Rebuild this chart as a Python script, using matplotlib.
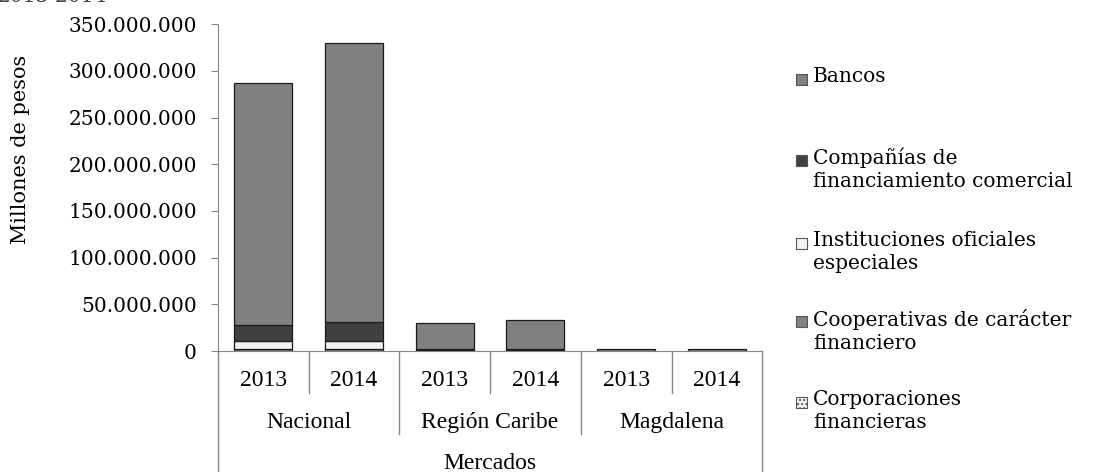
import numpy as np
import matplotlib
matplotlib.use('Agg')
import matplotlib.pyplot as plt
import matplotlib.transforms as mtransforms
from matplotlib.patches import Rectangle
from matplotlib.ticker import FuncFormatter

plt.rcParams['font.family'] = ['DejaVu Serif']

# datos (millones de pesos)
years = ['2013', '2014', '2013', '2014', '2013', '2014']
markets = ['Nacional', 'Región Caribe', 'Magdalena']
corporaciones = [0.3, 0.4, 0.05, 0.05, 0.01, 0.01]
cooperativas = [2.0, 2.2, 0.4, 0.45, 0.05, 0.06]
instituciones = [9.0, 8.8, 0.3, 0.3, 0.05, 0.05]
companias = [16.5, 19.3, 1.2, 1.4, 0.15, 0.17]
bancos = [259.2, 299.0, 27.7, 31.0, 1.6, 1.8]

series = [
    ('Corporaciones financieras', corporaciones, '#f2f2f2', '....'),
    ('Cooperativas de carácter financiero', cooperativas, '#828282', None),
    ('Instituciones oficiales especiales', instituciones, '#f2f2f2', None),
    ('Compañías de financiamiento comercial', companias, '#404040', None),
    ('Bancos', bancos, '#808080', None),
]

fig = plt.figure(figsize=(11, 4.72), dpi=100)
ax = fig.add_axes([0.198, 0.256, 0.495, 0.693])

x = np.arange(len(years))
bottom = np.zeros(len(years))
for name, vals, col, hatch in series:
    v = np.array(vals) * 1e6
    ax.bar(x, v, 0.64, bottom=bottom, color=col, edgecolor='#1a1a1a',
           linewidth=0.9, hatch=hatch)
    bottom += v

ax.set_xlim(-0.5, 5.5)
ax.set_ylim(0, 350e6)
ax.set_yticks(np.arange(0, 350e6 + 1, 50e6))
ax.yaxis.set_major_formatter(FuncFormatter(
    lambda v, p: '{:,.0f}'.format(v).replace(',', '.')))
ax.tick_params(axis='y', labelsize=14.5, length=5, color='#868686', pad=10)
ax.set_xticks([])
for s in ['top', 'right']:
    ax.spines[s].set_visible(False)
ax.spines['left'].set_color('#868686')
ax.spines['bottom'].set_color('#868686')
ax.set_ylabel('Millones de pesos', fontsize=15)
ax.yaxis.set_label_coords(-0.345, 0.618)

# ejes de categorias en dos niveles
tr = mtransforms.blended_transform_factory(ax.transData, ax.transAxes)
for xs in [0.5, 2.5, 4.5]:
    ax.plot([xs, xs], [0, -0.128], transform=tr, color='#868686', lw=1, clip_on=False)
for xs in [1.5, 3.5]:
    ax.plot([xs, xs], [0, -0.254], transform=tr, color='#868686', lw=1, clip_on=False)
for xs in [-0.5, 5.5]:
    ax.plot([xs, xs], [0, -0.40], transform=tr, color='#868686', lw=1, clip_on=False)
cat_font = ['Liberation Serif', 'DejaVu Serif']
for i, yr in enumerate(years):
    ax.text(i, -0.089, yr, transform=tr, ha='center', va='center', fontsize=17,
            family=cat_font)
for j, m in enumerate(markets):
    ax.text(2 * j + 0.5, -0.217, m, transform=tr, ha='center', va='center',
            fontsize=17, family=cat_font)
ax.text(2.5, -0.343, 'Mercados', transform=tr, ha='center', va='center',
        fontsize=17, family=cat_font)

# leyenda
W, H = 1100.0, 472.0
legend_items = [
    ('Bancos', 79, '#808080', None),
    ('Compañías de\nfinanciamiento comercial', 160, '#404040', None),
    ('Instituciones oficiales\nespeciales', 243, '#f2f2f2', None),
    ('Cooperativas de carácter\nfinanciero', 321, '#828282', None),
    ('Corporaciones\nfinancieras', 402, '#f2f2f2', '....'),
]
for label, ypx, col, hatch in legend_items:
    fig.patches.append(Rectangle((796 / W, 1 - (ypx + 6) / H), 11 / W, 11 / H,
                                 transform=fig.transFigure, facecolor=col,
                                 edgecolor='#555555', lw=0.8, hatch=hatch))
    fig.text(813 / W, 1 - (ypx - 12) / H, label, fontsize=14.5, va='top',
             ha='left', linespacing=1.25)

# titulo recortado arriba
fig.text(-0.002, 1.008, '2013-2014', fontsize=14.5, va='center', ha='left', color='#444444')

fig.savefig('out.png', dpi=100)
